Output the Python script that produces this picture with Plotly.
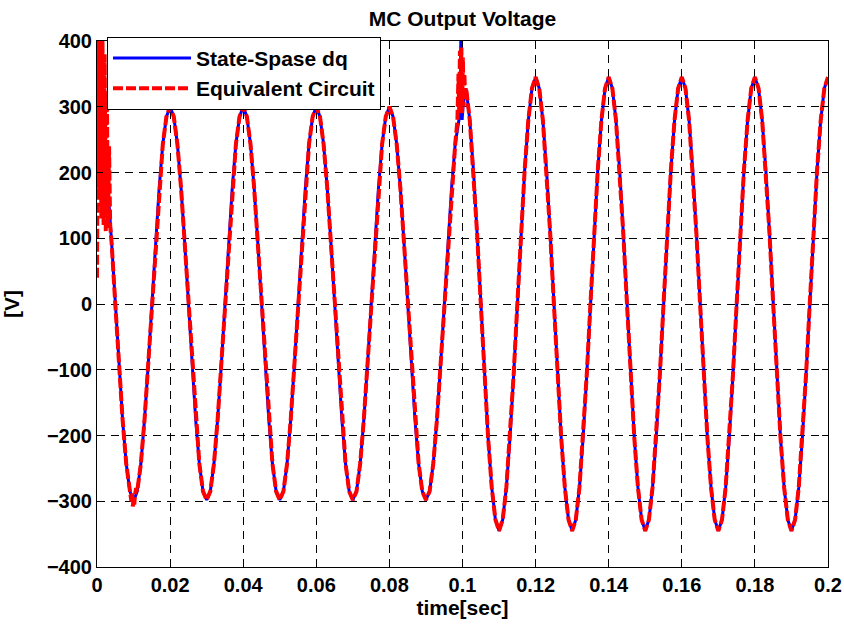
import plotly.graph_objects as go

# sample grid (1 ms) and the common waveform
t_ms = list(range(0, 201))
v_base = [
    300, 285, 243, 176, 93, 0, -93, -176, -243, -285, -300, -285, -243, -176, -93, 0, 93, 176, 243, 285,
    300, 285, 243, 176, 93, 0, -93, -176, -243, -285, -298, -285, -243, -176, -93, 0, 93, 176, 243, 285,
    300, 285, 243, 176, 93, 0, -93, -176, -243, -285, -298, -285, -243, -176, -93, 0, 93, 176, 243, 285,
    300, 285, 243, 176, 93, 0, -93, -176, -243, -285, -298, -285, -243, -176, -93, 0, 93, 176, 243, 285,
    300, 285, 243, 176, 93, 0, -93, -176, -243, -285, -298, -285, -243, -176, -93, 0, 93, 176, 243, 285,
    300,
    328, 279, 203, 107, 0, -107, -203, -279, -328, -345, -328, -279, -203, -107, 0, 107, 203, 279, 328, 345,
    328, 279, 203, 107, 0, -107, -203, -279, -328, -345, -328, -279, -203, -107, 0, 107, 203, 279, 328, 345,
    328, 279, 203, 107, 0, -107, -203, -279, -328, -345, -328, -279, -203, -107, 0, 107, 203, 279, 328, 345,
    328, 279, 203, 107, 0, -107, -203, -279, -328, -345, -328, -279, -203, -107, 0, 107, 203, 279, 328, 345,
    328, 279, 203, 107, 0, -107, -203, -279, -328, -345, -328, -279, -203, -107, 0, 107, 203, 279, 328, 345,
]

# State-Spase dq: switching spike at 0.1 s
blue_spike_t = [0.0993, 0.0996, 0.0999, 0.1002]
blue_spike_v = [290, 430, 280, 305]

# Equivalent Circuit: start-up ringing, trough jitter, spike at 0.1 s
red_start_t = [0.0, 0.0003, 0.0006, 0.0009, 0.0012, 0.0015, 0.0018, 0.0021, 0.0024,
               0.0027, 0.003, 0.0033, 0.0036, 0.0039]
red_start_v = [40, 420, 160, 415, 130, 405, 120, 380, 110, 320, 115, 240, 120, 105]
red_trough_t = [0.009, 0.0092, 0.0094, 0.0096, 0.0098, 0.01, 0.0102, 0.0104, 0.0107]
red_trough_v = [-285, -292, -300, -288, -308, -296, -305, -290, -280]
red_spike_t = [0.0986, 0.0989, 0.0991, 0.0993, 0.0995, 0.0997, 0.0999, 0.1001, 0.1003, 0.1005, 0.1007, 0.101]
red_spike_v = [278, 350, 290, 385, 300, 390, 290, 375, 300, 350, 320, 328]


def merge(t, v, t_new, v_new):
    lo, hi = min(t_new), max(t_new)
    pts = [(a, b) for a, b in zip(t, v) if not lo <= a <= hi]
    pts += list(zip(t_new, v_new))
    pts.sort()
    return [p[0] for p in pts], [p[1] for p in pts]


t_base = [m / 1000 for m in t_ms]
blue_t, blue_v = merge(t_base, v_base, blue_spike_t, blue_spike_v)
red_t, red_v = merge(t_base, v_base, red_start_t, red_start_v)
red_t, red_v = merge(red_t, red_v, red_trough_t, red_trough_v)
red_t, red_v = merge(red_t, red_v, red_spike_t, red_spike_v)

font = "Liberation Sans, Arial, sans-serif"

fig = go.Figure()
fig.add_trace(go.Scatter(x=blue_t, y=blue_v, mode="lines", name="State-Spase dq",
                         line=dict(color="#0000ff", width=3)))
fig.add_trace(go.Scatter(x=red_t, y=red_v, mode="lines", name="Equivalent Circuit",
                         line=dict(color="#ff0000", width=4, dash="10px,3px")))

axis = dict(showline=True, linecolor="black", linewidth=1, mirror="ticks",
            ticks="inside", ticklen=6, tickcolor="black", automargin=False,
            ticklabeloverflow="allow",
            showgrid=True, gridcolor="black", gridwidth=1, griddash="8px,6px",
            zeroline=False, tickfont=dict(family=font, size=20, color="black", weight="bold"))

fig.update_xaxes(range=[0, 0.2], tickvals=[0, 0.02, 0.04, 0.06, 0.08, 0.1, 0.12, 0.14, 0.16, 0.18, 0.2],
                 ticktext=["0", "0.02", "0.04", "0.06", "0.08", "0.1", "0.12", "0.14", "0.16", "0.18", "0.2"],
                 title=dict(text="<b>time[sec]</b>", font=dict(family=font, size=21, color="black"), standoff=4),
                 **axis)
fig.update_yaxes(range=[-400, 400], dtick=100,
                 title=dict(text="<b>[V]</b>", font=dict(family=font, size=21, color="black"), standoff=22),
                 **axis)

fig.update_layout(
    width=844, height=624,
    margin=dict(l=97, r=16, t=41, b=57),
    paper_bgcolor="white", plot_bgcolor="white",
    title=dict(text="<b>MC Output Voltage</b>", x=0.5, xref="paper", y=1 - 19 / 624, yref="container",
               yanchor="middle", font=dict(family=font, size=21, color="black")),
    legend=dict(x=0.0137, y=1.008, xanchor="left", yanchor="top", bgcolor="white", itemwidth=78,
                bordercolor="black", borderwidth=1, font=dict(family=font, size=21, color="black", weight="bold"),
                tracegroupgap=0),
    showlegend=True,
)

# drop the page's default body margin so the figure fills the window exactly
fig.write_html("out.html", config={"displayModeBar": False},
               post_script="document.body.style.margin='0';document.body.style.overflow='hidden';")
